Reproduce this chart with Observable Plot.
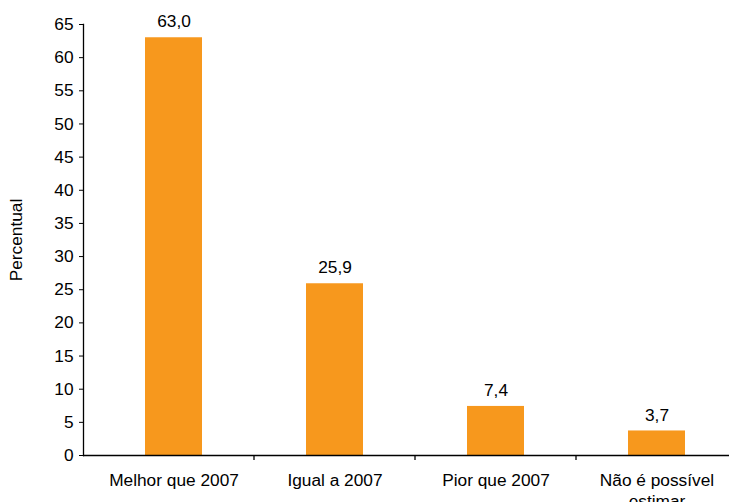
<!DOCTYPE html>
<html>
<head>
<meta charset="utf-8">
<script src="https://cdn.jsdelivr.net/npm/d3@7"></script>
<script src="https://cdn.jsdelivr.net/npm/@observablehq/plot@0.6"></script>
<style>
  html, body { margin: 0; padding: 0; background: #fff; overflow: hidden; }
  #chart svg { display: block; max-width: none !important; width: 740px !important; height: 502px !important; }
</style>
</head>
<body>
<div id="chart"></div>
<script>
const categories = ["Melhor que 2007", "Igual a 2007", "Pior que 2007", "Não é possível\nestimar"];
const values = [63.0, 25.9, 7.4, 3.7];
const yTicks = [0, 5, 10, 15, 20, 25, 30, 35, 40, 45, 50, 55, 60, 65];
const yLabel = "Percentual";

const data = categories.map((c, i) => ({cat: c, value: values[i]}));
const fmt = v => v.toFixed(1).replace(".", ",");

const plot = Plot.plot({
  width: 740,
  height: 502,
  marginLeft: 83,
  marginTop: 24,
  marginBottom: 47,
  marginRight: 0,
  style: {fontFamily: "'Liberation Sans', Arial, sans-serif", fontSize: "17px", color: "#000", background: "#fff"},
  x: {domain: categories, paddingInner: 0.646, paddingOuter: 0.323, insetLeft: 10, insetRight: 3},
  y: {domain: [0, 65]},
  marks: [
    Plot.barY(data, {x: "cat", y: "value", fill: "#F7981D"}),
    Plot.text(data, {x: "cat", y: "value", text: d => fmt(d.value), dy: -16, fontSize: 17.3, fill: "#000"}),
    Plot.ruleY([0], {stroke: "#000", strokeWidth: 1.3}),
    Plot.frame({anchor: "left", stroke: "#000", strokeWidth: 1.3}),
    Plot.axisY({ticks: yTicks, tickSize: 4, tickPadding: 6, label: null, fontSize: 17.3, stroke: "#000"}),
    Plot.text([yLabel], {text: d => d, frameAnchor: "left", textAnchor: "middle", rotate: -90, dx: -67, fontSize: 17.3, fill: "#000"}),
    Plot.axisX({tickSize: 0, tickPadding: 16, label: null, fontSize: 17.3, lineHeight: 1.2})
  ]
});

// Category separator ticks on the x axis, placed from the band scale
const sx = plot.scale("x");
const sy = plot.scale("y");
const y0 = sy.apply(0);
const g = d3.select(plot).append("g").attr("stroke", "#000").attr("stroke-width", 1.3);
categories.slice(1).forEach(c => {
  const xb = sx.apply(c) + sx.bandwidth / 2 - sx.step / 2;
  g.append("line").attr("x1", xb).attr("x2", xb).attr("y1", y0).attr("y2", y0 + 5);
});

document.getElementById("chart").appendChild(plot);
</script>
</body>
</html>
